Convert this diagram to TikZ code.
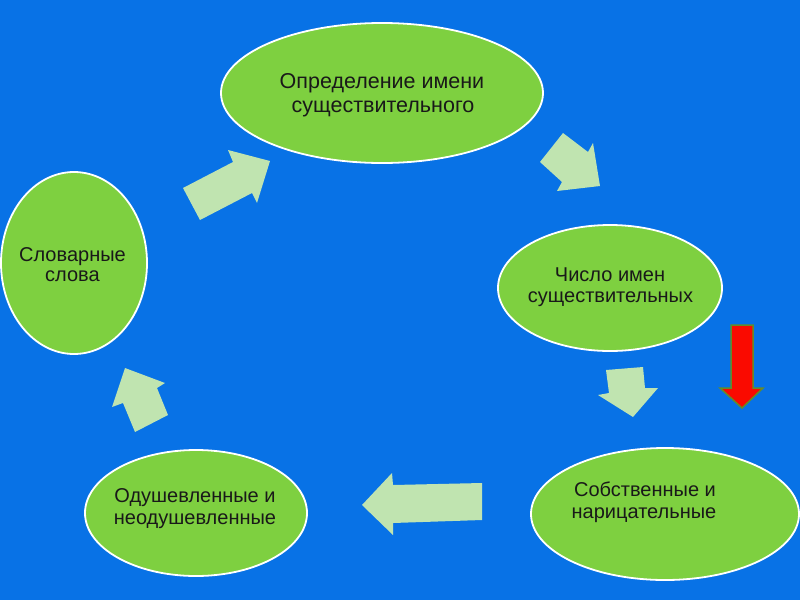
\documentclass[tikz,border=0pt]{standalone}
\usepackage{fontspec}
\setmainfont{Liberation Sans}
\usetikzlibrary{shapes.geometric}
\definecolor{bg}{RGB}{8,114,230}
\definecolor{ellfill}{RGB}{126,208,64}
\definecolor{arrfill}{RGB}{192,228,176}
\definecolor{redarr}{RGB}{250,10,0}
\definecolor{redborder}{RGB}{100,140,40}
\tikzset{
  ell/.style={ellipse, fill=ellfill, draw=white, line width=1.8pt, inner sep=0pt},
  txt/.style={anchor=base, inner sep=0pt, font=\fontsize{20}{22}\selectfont, text=black!90},
  txtbig/.style={txt, font=\fontsize{21.5}{24}\selectfont},
  blockarrow/.style={fill=arrfill, draw=none},
}
\begin{document}
\begin{tikzpicture}[x=1pt,y=-1pt]
\fill[bg] (0,0) rectangle (800,600);
\useasboundingbox (0,0) rectangle (800,600);
% ellipses
\node[ell, minimum width=322pt, minimum height=140pt] (e1) at (382,93) {};
\node[txtbig] (t1a) at (382,88) {Определение имени};
\node[txtbig] (t1b) at (383,112) {существительного};
\node[ell, minimum width=146pt, minimum height=182pt] (e2) at (74,263) {};
\node[txt] (t2a) at (72.5,261) {Словарные};
\node[txt] (t2b) at (72.5,281) {слова};
\node[ell, minimum width=224pt, minimum height=126pt] (e3) at (610,288) {};
\node[txt] (t3a) at (610,281) {Число имен};
\node[txt] (t3b) at (610.5,302) {существительных};
\node[ell, minimum width=268pt, minimum height=132pt] (e4) at (665,514) {};
\node[txt] (t4a) at (645,496) {Собственные и};
\node[txt] (t4b) at (644,518.5) {нарицательные};
\node[ell, minimum width=222pt, minimum height=126pt] (e5) at (196,513) {};
\node[txt] (t5a) at (195,502) {Одушевленные и};
\node[txt] (t5b) at (195,524.5) {неодушевленные};
% block arrows
\fill[blockarrow] (183,188) -- (233,162) -- (228,150) -- (270,161) -- (257,203) -- (252,193) -- (200,220) -- cycle;
\fill[blockarrow] (563,133) -- (588,152) -- (593,143) -- (600,186) -- (557,191) -- (562,182) -- (540,162) -- cycle;
\fill[blockarrow] (606,370) -- (643,367) -- (645,388) -- (658,388) -- (633,417) -- (598,395) -- (609,393) -- cycle;
\fill[blockarrow] (482,483) -- (482,520) -- (393,523) -- (393,535) -- (362,505) -- (392,473) -- (393,485) -- cycle;
\fill[blockarrow] (125,368) -- (165,383) -- (157,388) -- (168,415) -- (135,432) -- (123,403) -- (112,407) -- cycle;
% red arrow
\filldraw[fill=redarr, draw=redborder, line width=1.5pt, line join=miter] (731,325) -- (753,325) -- (753,388) -- (763,388) -- (742,408) -- (720,388) -- (731,388) -- cycle;
\end{tikzpicture}
\end{document}
